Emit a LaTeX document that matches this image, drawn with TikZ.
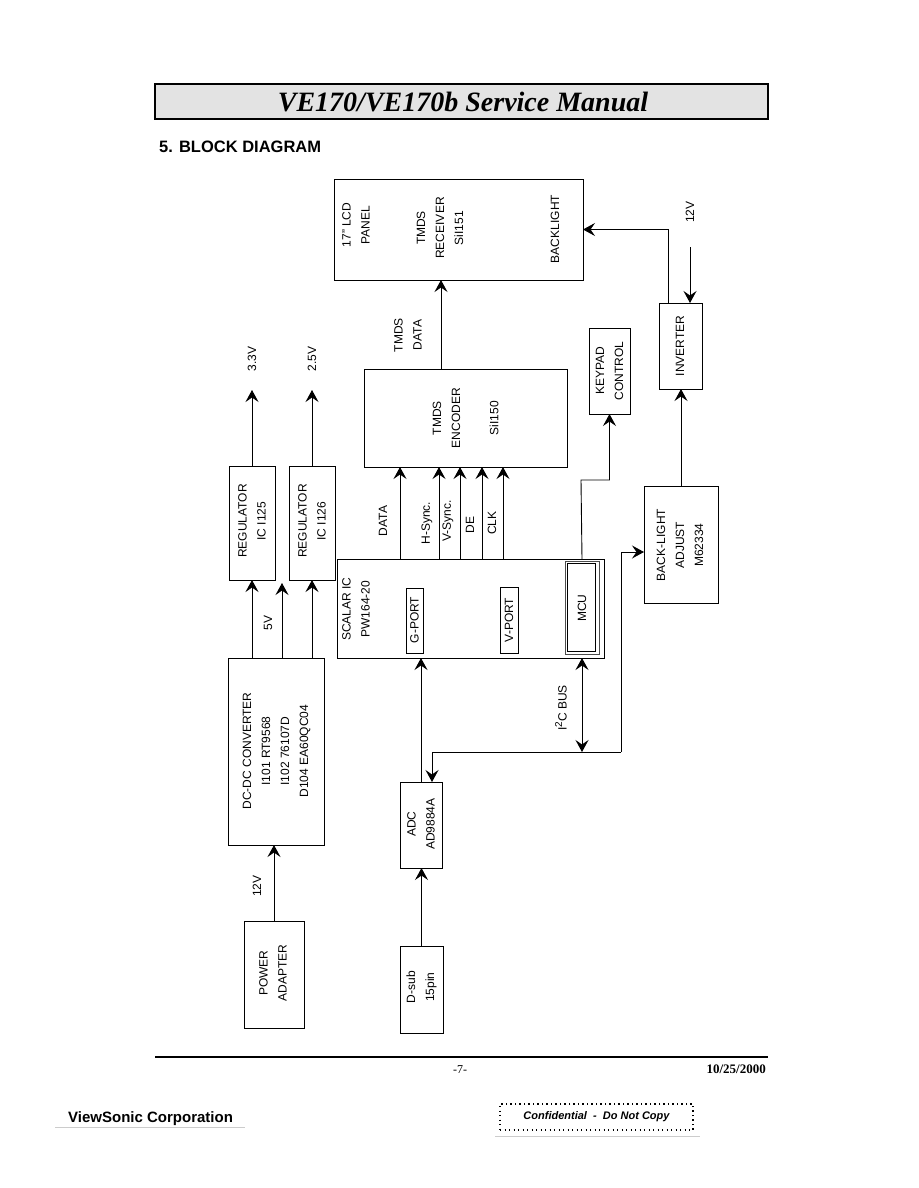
\documentclass[tikz,border=0pt]{standalone}
\usepackage{fontspec}
\setmainfont{Liberation Sans}
\newfontfamily\timesf{Liberation Serif}
\usetikzlibrary{arrows.meta,calc}
\begin{document}
\begin{tikzpicture}[x=1pt,y=-1pt,
  box/.style={draw, line width=0.9pt, inner sep=0pt, outer sep=0pt},
  lbl/.style={rotate=90, align=center, font=\fontsize{12}{19}\selectfont, inner sep=0pt},
  ln/.style={line width=0.9pt},
  arr/.style={line width=0.9pt, -{Stealth[length=12pt,width=13pt,inset=4.5pt]}},
  arrb/.style={line width=0.9pt, {Stealth[length=12pt,width=13pt,inset=4.5pt]}-{Stealth[length=12pt,width=13pt,inset=4.5pt]}}]
\fill[white] (0,0) rectangle (918,1188);
\useasboundingbox (0,0) rectangle (918,1188);

% header
\node[draw, fill=gray!22, line width=1.6pt, minimum width=613pt, minimum height=35pt, inner sep=0pt] (hdr) at (461.5,101.5) {};
\node[font=\timesf\bfseries\itshape\fontsize{28}{30}\selectfont, inner sep=0pt] (title) at (463,102) {VE170/VE170b Service Manual};
\node[anchor=base west, font=\bfseries\fontsize{16.5}{18}\selectfont, inner sep=0pt] (sec) at (159,152) {5. BLOCK DIAGRAM};

% boxes
\node[box, minimum width=249pt, minimum height=101pt] (lcd) at (458.5,229.5) {};
\node[box, minimum width=43pt, minimum height=86pt] (inv) at (680.5,346) {};
\node[box, minimum width=74pt, minimum height=117pt] (bla) at (681,544.5) {};
\node[box, minimum width=41pt, minimum height=86pt] (key) at (609.5,371) {};
\node[box, minimum width=203pt, minimum height=98pt] (enc) at (465.5,418) {};
\node[box, minimum width=46pt, minimum height=114pt] (reg1) at (252,523) {};
\node[box, minimum width=46pt, minimum height=114pt] (reg2) at (312,523) {};
\node[box, minimum width=267pt, minimum height=99pt] (scalar) at (470.5,608.5) {};
\node[box, minimum width=17pt, minimum height=65pt] (gport) at (414.5,620.5) {};
\node[box, minimum width=18pt, minimum height=66pt] (vport) at (509,620) {};
\node[box, draw=black!70, minimum width=34pt, minimum height=93pt] (mcu) at (582,607.5) {};
\node[box, line width=0.8pt, minimum width=28.5pt, minimum height=88pt] (mcuin) at (581.5,607.5) {};
\node[box, minimum width=96pt, minimum height=187pt] (dcdc) at (276,751.5) {};
\node[box, minimum width=42pt, minimum height=86pt] (adc) at (421,825) {};
\node[box, minimum width=60pt, minimum height=107pt] (pwr) at (274,974.5) {};
\node[box, minimum width=43pt, minimum height=87pt] (dsub) at (421.5,989.5) {};

% labels
\node[lbl] (tl1) at (356,225) {17" LCD\\PANEL};
\node[lbl] (tl2) at (440,228) {TMDS\\RECEIVER\\SiI151};
\node[lbl] (tl3) at (555,229) {BACKLIGHT};
\node[lbl] (tdata) at (408,335) {TMDS\\DATA};
\node[lbl] (t12a) at (690,212) {12V};
\node[lbl] (tinv) at (680,346) {INVERTER};
\node[lbl] (tkey) at (609.5,371) {KEYPAD\\CONTROL};
\node[lbl] (tenc) at (446.5,418) {TMDS\\ENCODER};
\node[lbl] (tenc2) at (494,418) {SiI150};
\node[lbl] (t33) at (252,359) {3.3V};
\node[lbl] (t25) at (312,359) {2.5V};
\node[lbl] (treg1) at (252,521) {REGULATOR\\IC I125};
\node[lbl] (treg2) at (312,521) {REGULATOR\\IC I126};
\node[lbl] (sl1) at (383,521) {DATA};
\node[lbl] (sl2) at (427,523) {H-Sync.};
\node[lbl] (sl3) at (448,521) {V-Sync.};
\node[lbl] (sl4) at (470,525) {DE};
\node[lbl] (sl5) at (492,523) {CLK};
\node[lbl] (tbla) at (680,545) {BACK-LIGHT\\ADJUST\\M62334};
\node[lbl] (tsc) at (356,609) {SCALAR IC\\PW164-20};
\node[lbl] (tgp) at (414.5,620) {G-PORT};
\node[lbl] (tvp) at (509,620) {V-PORT};
\node[lbl] (tmcu) at (582,608) {MCU};
\node[lbl] (t5v) at (268,623) {5V};
\node[lbl] (tdc) at (276.5,751) {DC-DC CONVERTER\\I101 RT9568\\I102 76107D\\D104 EA60QC04};
\node[lbl] (ti2c) at (561,708) {I\raisebox{4.5pt}{\fontsize{10}{10}\selectfont 2}C BUS};
\node[lbl] (tadc) at (421,824) {ADC\\AD9884A};
\node[lbl] (t12b) at (257,886) {12V};
\node[lbl] (tpwr) at (273,973) {POWER\\ADAPTER};
\node[lbl] (tdsub) at (421.5,987) {D-sub\\15pin};

% coordinates
\coordinate (v12) at (690,247);
\coordinate (invtap) at (668,303);
\coordinate (enctap) at (441,369);
\coordinate (sD) at (400,559);
\coordinate (sH) at (439,559);
\coordinate (sV) at (460,559);
\coordinate (sE) at (482,559);
\coordinate (sC) at (503,559);
\coordinate (v33) at (252,390);
\coordinate (v25) at (312,390);
\coordinate (m5) at (282,583);
\coordinate (kb) at (581,480);
\coordinate (iL) at (432,752);
\coordinate (iR) at (621,752);
\coordinate (iT) at (621,552);

% connectors
\draw[arr] (invtap) |- (lcd.east);
\draw[arr] (v12) -- (v12 |- inv.north);
\draw[arr] (bla.north) -- (bla.north |- inv.south);
\draw[arr] (mcu.north |- scalar.north) -- (kb) -| (key.south);
\draw[arr] (enctap) -- (enctap |- lcd.south);
\draw[arr] (sD) -- (sD |- enc.south);
\draw[arr] (sH) -- (sH |- enc.south);
\draw[arr] (sV) -- (sV |- enc.south);
\draw[arr] (sE) -- (sE |- enc.south);
\draw[arr] (sC) -- (sC |- enc.south);
\draw[arr] (reg1.north) -- (v33);
\draw[arr] (reg2.north) -- (v25);
\draw[arr] (dcdc.north -| reg1.south) -- (reg1.south);
\draw[arr] (dcdc.north -| m5) -- (m5);
\draw[arr] (dcdc.north -| reg2.south) -- (reg2.south);
\draw[arr] (pwr.north) -- (pwr.north |- dcdc.south);
\draw[arr] (dsub.north) -- (dsub.north |- adc.south);
\draw[arr] (adc.north) -- (adc.north |- scalar.south);
\draw[arrb] (mcu.south |- scalar.south) -- (mcu.south |- iL);
\draw[ln] (iL) -- (iR);
\draw[arr] (iL) -- (iL |- adc.north);
\draw[arr] (iR) -- (iT) -- (iT -| bla.west);

% footer
\draw[line width=2.5pt] (155,1057) -- (768,1057);
\node[anchor=base, font=\timesf\fontsize{12}{14}\selectfont, inner sep=0pt] (pg) at (460,1073) {-7-};
\node[anchor=base east, font=\timesf\bfseries\fontsize{13}{15}\selectfont, inner sep=0pt] (date) at (766,1073) {10/25/2000};
\node[anchor=base west, font=\bfseries\fontsize{15}{17}\selectfont, inner sep=0pt] (vs) at (68,1122) {ViewSonic Corporation};
\draw[gray!40, line width=0.6pt] (55,1127) -- (245,1127);
\node[draw, dash pattern=on 1.3pt off 3.2pt, line width=1.3pt, minimum width=193pt, minimum height=26pt, inner sep=0pt, font=\bfseries\itshape\fontsize{11}{13}\selectfont] (conf) at (596.5,1117) {Confidential~~-~~Do Not Copy};
\draw[gray!40, line width=0.6pt] (495,1136) -- (700,1136);
\end{tikzpicture}
\end{document}
